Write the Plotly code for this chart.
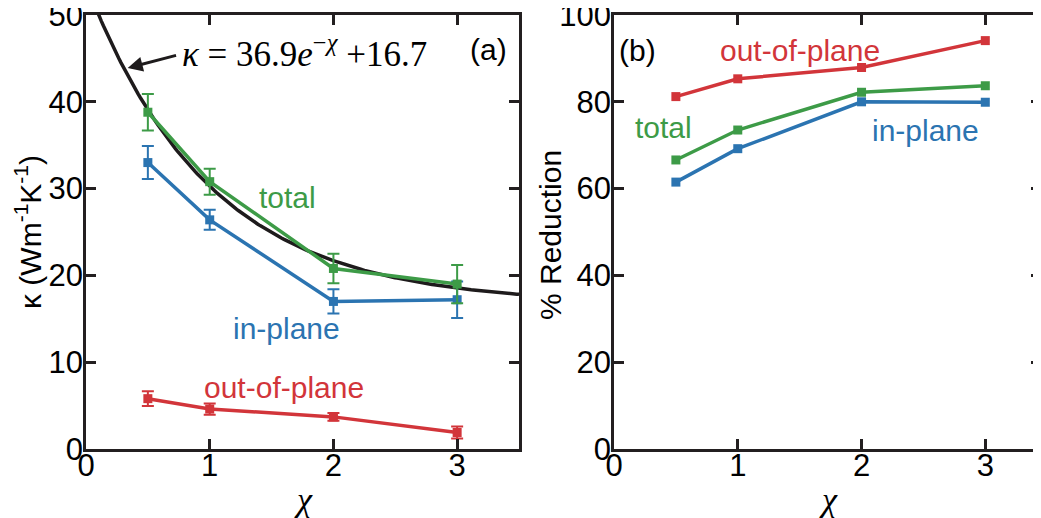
import numpy as np
import plotly.graph_objects as go

# ---------------- data ----------------
chi = [0.5, 1, 2, 3]

# panel (a): thermal conductivity
kappa_total = [38.8, 30.8, 20.8, 19.0]
kappa_total_err = [2.1, 1.5, 1.7, 2.2]
kappa_in = [33.0, 26.4, 17.0, 17.2]
kappa_in_err = [1.9, 1.15, 1.4, 2.1]
kappa_out = [5.8, 4.6, 3.7, 1.9]
kappa_out_err = [0.85, 0.65, 0.45, 0.7]

# fit shown in the figure: kappa = A*exp(-chi) + B
fit_A = 36.9
fit_B = 16.7

# panel (b): % reduction
red_out = [81.2, 85.3, 87.9, 94.1]
red_total = [66.6, 73.5, 82.2, 83.7]
red_in = [61.5, 69.2, 80.0, 79.9]

xticks = [0, 1, 2, 3]
yticks_a = [0, 10, 20, 30, 40, 50]
yticks_b = [0, 20, 40, 60, 80, 100]

# ---------------- style ----------------
GREEN = "#3d9b47"
BLUE = "#2b74b1"
RED = "#d2353a"
BLACK = "#1e1b1c"
AX = "#231f20"
SANS = "Liberation Sans, Arial, sans-serif"
SERIF = "Liberation Serif, Times New Roman, serif"

W, H = 1041, 518
OFF = 8  # page body margin offset (px)


def px_x(p):
    return (p - OFF) / W


def px_y(p):
    return 1 - (p - OFF) / H


fig = go.Figure()

fit_x = np.linspace(0, 3.5, 200)
fit_y = fit_A * np.exp(-fit_x) + fit_B
fig.add_trace(go.Scatter(x=fit_x, y=fit_y, mode="lines",
                         line=dict(color=BLACK, width=3.5),
                         xaxis="x", yaxis="y", showlegend=False))


def series(x, y, err, color, xa, ya):
    tr = dict(x=x, y=y, mode="lines+markers",
              line=dict(color=color, width=3.5),
              marker=dict(symbol="square", size=9, color=color),
              xaxis=xa, yaxis=ya, showlegend=False)
    if err is not None:
        tr["error_y"] = dict(type="data", array=err, visible=True,
                             color=color, thickness=2, width=6)
    fig.add_trace(go.Scatter(**tr))


series(chi, kappa_in, kappa_in_err, BLUE, "x", "y")
series(chi, kappa_out, kappa_out_err, RED, "x", "y")
series(chi, kappa_total, kappa_total_err, GREEN, "x", "y")

series(chi, red_in, None, BLUE, "x2", "y2")
series(chi, red_total, None, GREEN, "x2", "y2")
series(chi, red_out, None, RED, "x2", "y2")

axis_common = dict(showgrid=False, zeroline=False, showline=True,
                   linecolor=AX, linewidth=2.5, mirror="ticks",
                   ticks="inside", ticklen=10, tickwidth=2.5, tickcolor=AX,
                   automargin=False, ticklabeloverflow="allow",
                   tickfont=dict(family=SANS, size=31, color="black"))

xdom_a = [px_x(86), px_x(519)]
xdom_b = [px_x(614), px_x(1041)]
ydom = [px_y(449), px_y(15)]

fig.update_layout(
    width=W, height=H,
    margin=dict(l=0, r=0, t=0, b=0),
    paper_bgcolor="white", plot_bgcolor="white",
    xaxis=dict(domain=xdom_a, range=[0, 3.5], tickvals=xticks, anchor="y",
               ticklabelstandoff=-13, **axis_common),
    yaxis=dict(domain=ydom, range=[0, 50.001], tickvals=yticks_a, anchor="x",
               ticklabelstandoff=-6, **axis_common),
    xaxis2=dict(domain=xdom_b, range=[0, 3.45], tickvals=xticks, anchor="y2",
                ticklabelstandoff=-13, **axis_common),
    yaxis2=dict(domain=ydom, range=[0, 100.002], tickvals=yticks_b, anchor="x2",
                ticklabelstandoff=-6, **axis_common),
)

ann = []


def label(text, x, y, color, xref, yref, size=30, xanchor="center", family=SANS, angle=0):
    ann.append(dict(text=text, x=x, y=y, xref=xref, yref=yref, showarrow=False,
                    xanchor=xanchor, yanchor="middle", textangle=angle,
                    font=dict(family=family, size=size, color=color)))


# axis titles (paper coords)
label("κ (Wm<sup>-1</sup>K<sup>-1</sup>)", px_x(28), px_y(232), "black", "paper", "paper",
      size=30, angle=-90)
label("% Reduction", px_x(550), px_y(235), "black", "paper", "paper", size=30, angle=-90)
label("<i>χ</i>", px_x(303), px_y(499), "black", "paper", "paper", size=34, family=SERIF)
label("<i>χ</i>", px_x(828), px_y(499), "black", "paper", "paper", size=34, family=SERIF)

label("total", 1.63, 29.0, GREEN, "x", "y")
label("in-plane", 1.62, 13.9, BLUE, "x", "y")
label("out-of-plane", 1.60, 7.1, RED, "x", "y")
label("(a)", 3.25, 46.0, "black", "x", "y")
label("<i>κ</i> = 36.9<i>e</i><sup>−<i>χ</i></sup> +16.7", 0.76, 45.8, "black", "x", "y",
      size=35, xanchor="left", family=SERIF)

label("(b)", 0.19, 91.9, "black", "x2", "y2")
label("out-of-plane", 1.50, 91.9, RED, "x2", "y2")
label("total", 0.40, 74.0, GREEN, "x2", "y2")
label("in-plane", 2.52, 73.5, BLUE, "x2", "y2")

# arrow pointing from the formula to the fit curve
ann.append(dict(x=0.337, y=43.9, ax=0.74, ay=45.4, xref="x", yref="y",
                axref="x", ayref="y", showarrow=True, arrowhead=2,
                arrowsize=1.0, arrowwidth=3, arrowcolor=BLACK, text=""))

fig.update_layout(annotations=ann)
fig.write_html("out.html")
